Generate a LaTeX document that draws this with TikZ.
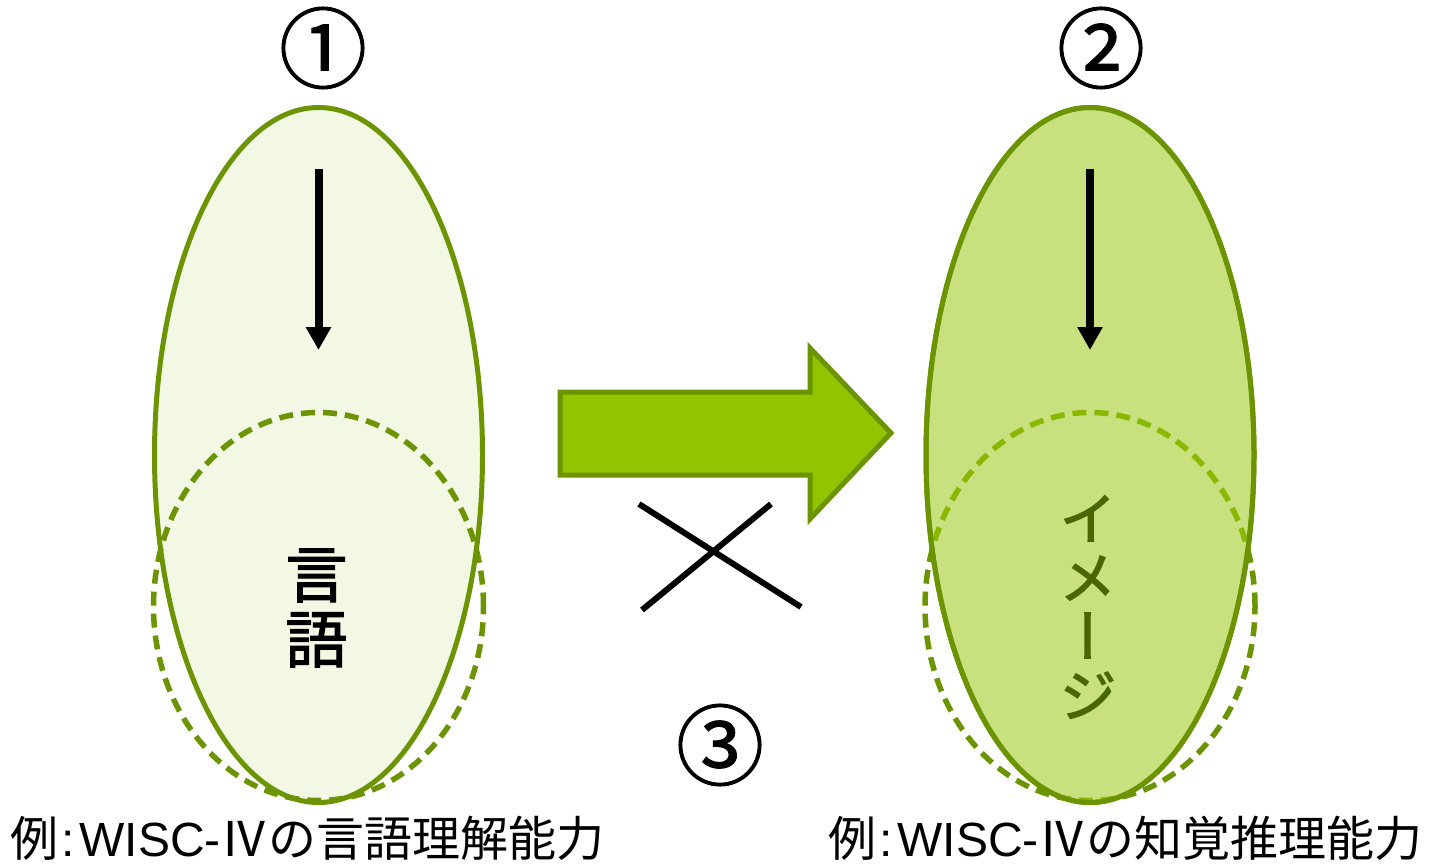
\documentclass[tikz,border=0pt]{standalone}
\usepackage{fontspec}
\setmainfont{Noto Sans CJK JP}
\newfontfamily\jp{Noto Sans CJK JP}
\newfontfamily\jpb[FakeBold=1.2]{Noto Sans CJK JP}
\newfontfamily\jpv[RawFeature=+vert,FakeBold=2]{Noto Sans CJK JP}
\newfontfamily\lat{Liberation Sans}
\usetikzlibrary{shapes.geometric,arrows.meta}
\definecolor{olive}{HTML}{6B9400}
\definecolor{leftfill}{HTML}{F2F8E4}
\definecolor{rightfill}{HTML}{C9E07E}
\definecolor{arrowfill}{HTML}{92C400}
\definecolor{dashin}{HTML}{8AB800}
\definecolor{imgtext}{HTML}{4A6600}
\tikzset{
  big/.style={ellipse, draw=olive, line width=5pt, minimum width=328pt, minimum height=695pt, inner sep=0pt},
  small/.style={ellipse, draw=olive, line width=5.5pt, dash pattern=on 14pt off 8pt, minimum width=330pt, minimum height=388pt, inner sep=0pt},
  down/.style={line width=8pt, -{Triangle[width=24pt,length=23pt]}},
  circnum/.style={font=\jpb\fontsize{88}{88}\selectfont, inner sep=0pt},
  caption/.style={font=\jp\fontsize{48}{48}\selectfont, inner sep=0pt, anchor=base west},
  crossline/.style={line width=6pt},
}
\newcommand{\wisc}{{\lat WISC-}}
\begin{document}
\begin{tikzpicture}[x=1pt,y=-1pt]
\useasboundingbox (0,0) rectangle (1431,864);
% left group
\node[big, fill=leftfill] (L) at (318.5,455) {};
\node[small] (Ld) at (318.5,606.5) {};
\coordinate (La) at (318.5,169);
\coordinate (Lb) at (318.5,350);
\draw[down] (La) -- (Lb);
\node[font=\jpv\fontsize{62}{65}\selectfont, align=center, inner sep=0pt] (Lt) at (316.5,608) {言\\語};
% right group
\node[small] (Rd) at (1090,606.5) {};
\node[big, fill=rightfill] (R) at (1090,455) {};
\begin{scope}
  \clip (1090,455) ellipse [x radius=164pt, y radius=347.5pt];
  \node[small, draw=dashin] at (1090,606.5) {};
\end{scope}
\node[big] at (1090,455) {};
\coordinate (Ra) at (1090,169);
\coordinate (Rb) at (1090,350);
\draw[down] (Ra) -- (Rb);
\node[font=\jpv\fontsize{58}{59}\selectfont, align=center, inner sep=0pt, text=imgtext] (Rt) at (1088,607) {イ\\メ\\ー\\ジ};
% block arrow
\draw[draw=olive, fill=arrowfill, line width=5pt, line join=miter]
  (560,392) -- (810,392) -- (810,348) -- (891,433) -- (810,519) -- (810,475) -- (560,475) -- cycle;
% cross
\coordinate (c1) at (639,504);
\coordinate (c2) at (801,607);
\coordinate (c3) at (771,504);
\coordinate (c4) at (642,610);
\draw[crossline] (c1) -- (c2);
\draw[crossline] (c3) -- (c4);
% circled numbers
\node[circnum] (n1) at (323,48) {①};
\node[circnum] (n2) at (1101,48) {②};
\node[circnum] (n3) at (720,745) {③};
% captions
\node[caption] (capL) at (10,856) {例\hspace{3pt}{\lat :}\hspace{5pt}\wisc Ⅳの言語理解能力};
\node[caption] (capR) at (828,856) {例\hspace{3pt}{\lat :}\hspace{5pt}\wisc Ⅳの知覚推理能力};
\end{tikzpicture}
\end{document}
